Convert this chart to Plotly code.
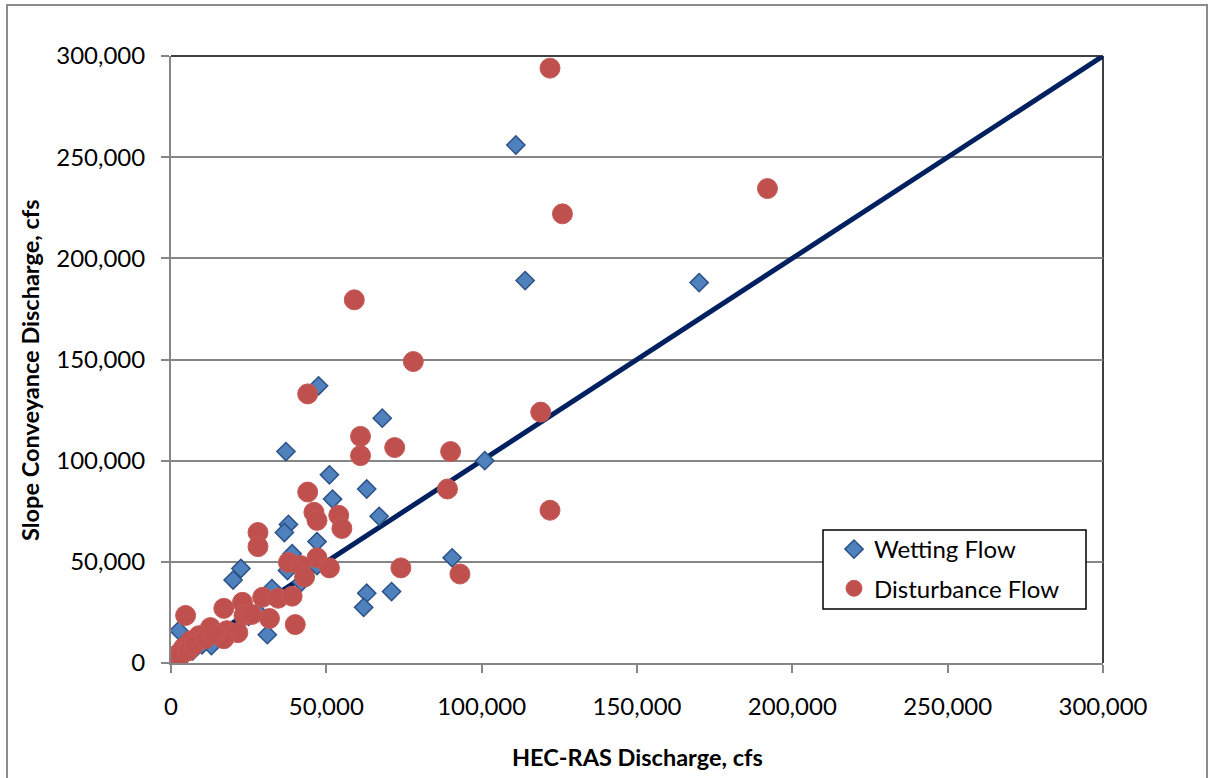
import plotly.graph_objects as go

# Wetting Flow (HEC-RAS discharge, slope conveyance discharge), cfs
wet_x = [111000, 114000, 170000, 101000, 47500, 37000, 68000, 51000, 63000, 52000,
         67000, 37800, 36500, 47000, 39000, 90500, 37500, 47000, 22500, 20000,
         32500, 63000, 71000, 62000, 2500, 31000, 13000,
         0, 3000, 7000, 10000, 16000, 25000, 28000, 35000, 42000]
wet_y = [256000, 189000, 188000, 100000, 137000, 104500, 121000, 93000, 86000, 81000,
         72500, 68500, 64500, 60000, 54000, 52000, 45700, 48200, 46700, 41000,
         36800, 34500, 35300, 27500, 16000, 14000, 8600,
         0, 2500, 6000, 9000, 14000, 23000, 25000, 33000, 40000]

# Disturbance Flow
dist_x = [122000, 192000, 126000, 59000, 78000, 44000, 119000, 61000, 72000, 61000,
          90000, 89000, 44000, 122000, 46000, 47000, 54000, 55000, 28000, 28000,
          47000, 37800, 41700, 51000, 74000, 93000, 43000, 4700, 29500, 34500,
          39000, 23000, 17000, 23500, 31700, 40000, 12700, 18000, 21500, 17000,
          9000, 6300, 4000, 2500, 500,
          1500, 3000, 5500, 7500, 11000, 14000, 26000]
dist_y = [294000, 234500, 222000, 179500, 149000, 133000, 124000, 112000, 106500, 102500,
          104500, 86000, 84500, 75500, 74500, 70500, 73000, 66500, 64500, 57500,
          52000, 49700, 48200, 47000, 47000, 44000, 42500, 23500, 32500, 32000,
          33000, 30000, 27000, 23500, 22000, 19000, 17500, 16000, 15000, 12000,
          13500, 11000, 7500, 4700, 1200,
          2500, 3500, 6000, 9000, 12000, 14500, 24000]

# 1:1 reference line
line_x = [0, 300000]
line_y = [0, 300000]

tick_vals = [0, 50000, 100000, 150000, 200000, 250000, 300000]
tick_text = ["0", "50,000", "100,000", "150,000", "200,000", "250,000", "300,000"]

FONT = "Lato, 'Open Sans', sans-serif"
W, H = 1208, 778
L, R, T, B = 171, 105, 56, 115
PW, PH = W - L - R, H - T - B


def px(xp):
    return (xp - L) / PW


def py(yp):
    return (H - B - yp) / PH


fig = go.Figure()
fig.add_trace(go.Scatter(x=line_x, y=line_y, mode="lines",
                         line=dict(color="#002060", width=5), showlegend=False,
                         hoverinfo="skip"))
fig.add_trace(go.Scatter(x=wet_x, y=wet_y, mode="markers", name="Wetting Flow",
                         legendgroup="a",
                         marker=dict(symbol="diamond", size=14, color="#4f81bd",
                                     line=dict(color="#2c5287", width=1.5))))
fig.add_trace(go.Scatter(x=dist_x, y=dist_y, mode="markers", name="Disturbance Flow",
                         legendgroup="b",
                         marker=dict(symbol="circle", size=20, color="#c0504d",
                                     line=dict(color="#c45a57", width=1))))

axis_common = dict(
    tickmode="array", tickvals=tick_vals, ticktext=tick_text,
    range=[0, 300000], showline=True, linecolor="#868686", linewidth=2,
    ticks="outside", ticklen=8, tickwidth=1.5, tickcolor="#868686",
    tickfont=dict(family=FONT, size=24, color="black"),
    zeroline=False,
)

fig.update_xaxes(**axis_common, showgrid=False, ticklabelstandoff=13)
fig.update_yaxes(**axis_common, showgrid=True, gridcolor="#868686", gridwidth=1.5,
                 ticklabelstandoff=11)

fig.update_layout(
    width=W, height=H,
    margin=dict(l=L, r=R, t=T, b=B),
    plot_bgcolor="white", paper_bgcolor="white",
    font=dict(family=FONT, size=24, color="black"),
    legend=dict(x=px(834), y=py(527), xanchor="left", yanchor="top",
                borderwidth=0, bgcolor="rgba(0,0,0,0)",
                font=dict(family=FONT, size=24, color="black"),
                itemwidth=30, traceorder="grouped", tracegroupgap=5),
    showlegend=True,
    annotations=[
        dict(text="<b>HEC-RAS Discharge, cfs</b>", xref="paper", yref="paper",
             x=0.5, y=py(757), xanchor="center", yanchor="middle",
             showarrow=False, font=dict(family=FONT, size=23.5, color="black")),
        dict(text="<b>Slope Conveyance Discharge, cfs</b>", xref="paper", yref="paper",
             x=px(30), y=py(370), xanchor="center", yanchor="middle",
             textangle=-90, showarrow=False,
             font=dict(family=FONT, size=23.5, color="black")),
    ],
    shapes=[
        dict(type="line", xref="paper", yref="paper", x0=0, x1=1, y0=1, y1=1,
             line=dict(color="black", width=1.5), layer="below"),
        dict(type="line", xref="paper", yref="paper", x0=1, x1=1, y0=0, y1=1,
             line=dict(color="black", width=1.5), layer="below"),
        dict(type="rect", xref="paper", yref="paper",
             x0=px(7), x1=px(1207), y0=py(790), y1=py(5),
             line=dict(color="#8c8c8c", width=2), layer="below"),
        dict(type="rect", xref="paper", yref="paper",
             x0=px(823), x1=px(1086), y0=py(609), y1=py(530),
             line=dict(color="black", width=1.5), fillcolor="white", layer="above"),
    ],
)

fig.write_html("out.html", config={"displayModeBar": False},
               post_script="document.body.style.margin='0px';")
